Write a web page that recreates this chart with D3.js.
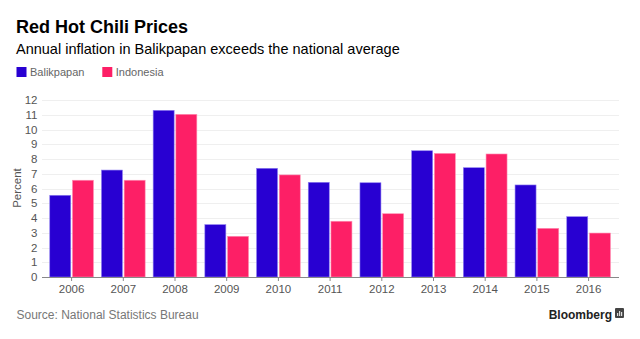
<!DOCTYPE html>
<html>
<head>
<meta charset="utf-8">
<script src="https://cdn.jsdelivr.net/npm/d3@7"></script>
<style>
  html, body { margin: 0; padding: 0; background: #fff; }
  svg { display: block; font-family: "Liberation Sans", Arial, Helvetica, sans-serif; }
</style>
</head>
<body>
<svg id="chart" width="640" height="339"></svg>
<script>
const years = ["2006","2007","2008","2009","2010","2011","2012","2013","2014","2015","2016"];
const seriesNames = ["Balikpapan", "Indonesia"];
const balikpapan = [5.54, 7.25, 11.3, 3.55, 7.37, 6.42, 6.39, 8.56, 7.41, 6.24, 4.09];
const indonesia  = [6.56, 6.56, 11.03, 2.76, 6.92, 3.78, 4.29, 8.38, 8.34, 3.30, 2.98];
const yTicks = [0,1,2,3,4,5,6,7,8,9,10,11,12];
const colors = ["#2800d2", "#fd1f66"];

const svg = d3.select("#chart");

const x = d3.scaleBand().domain(years).range([45.75, 614.45]).paddingInner(0.155).paddingOuter(0.0775);
const x1 = d3.scaleBand().domain(seriesNames).range([0, x.bandwidth()]).paddingInner(0.075);
const y = d3.scaleLinear().domain([0, 12]).range([277, 100]);

// Title
svg.append("text").attr("x", 16).attr("y", 33).attr("font-size", 18).attr("font-weight", "bold").attr("fill", "#000").text("Red Hot Chili Prices");
svg.append("text").attr("x", 16).attr("y", 53.5).attr("font-size", 14.5).attr("fill", "#000").text("Annual inflation in Balikpapan exceeds the national average");

// Legend
const legendX = [16.5, 102.3];
seriesNames.forEach((s, i) => {
  svg.append("rect").attr("x", legendX[i]).attr("y", 67).attr("width", 10).attr("height", 10).attr("fill", colors[i]);
  svg.append("text").attr("x", legendX[i] + 13.5).attr("y", 76.3).attr("font-size", 11).attr("fill", "#666").text(s);
});

// Gridlines
svg.append("g").selectAll("line").data(yTicks.filter(d => d > 0)).join("line")
  .attr("x1", 42).attr("x2", 619)
  .attr("y1", d => Math.round(y(d)) + 0.5).attr("y2", d => Math.round(y(d)) + 0.5)
  .attr("stroke", "#efefef").attr("stroke-width", 1);

// Y axis labels
const yAxis = d3.axisLeft(y).tickValues(yTicks).tickSize(0).tickPadding(0);
const gy = svg.append("g").attr("transform", "translate(37.5,0)").call(yAxis);
gy.select(".domain").remove();
gy.selectAll("text").attr("font-size", 11.5).attr("fill", "#555").attr("font-family", "Liberation Sans, Arial, sans-serif");

svg.append("text").attr("transform", "translate(20.5,188) rotate(-90)").attr("text-anchor", "middle")
  .attr("font-size", 11.5).attr("fill", "#555").text("Percent");

// Bars
const data = years.map((yr, i) => ({ year: yr, values: [balikpapan[i], indonesia[i]] }));
const groups = svg.append("g").selectAll("g").data(data).join("g")
  .attr("transform", d => `translate(${x(d.year)},0)`);
groups.selectAll("rect").data(d => d.values.map((v, i) => ({ name: seriesNames[i], v, i }))).join("rect")
  .attr("x", d => x1(d.name)).attr("width", x1.bandwidth())
  .attr("y", d => y(d.v)).attr("height", d => y(0) - y(d.v))
  .attr("fill", d => colors[d.i])
  .attr("stroke", d => d.i === 0 ? "#8f7ff0" : "#ff8fb3").attr("stroke-width", 0.6);

// X axis
const xAxis = d3.axisBottom(x).tickSize(3.5).tickPadding(4);
const gx = svg.append("g").attr("transform", `translate(0,${y(0) + 0.5})`).call(xAxis);
gx.select(".domain").remove();
gx.selectAll(".tick line").attr("stroke", "#888");
gx.selectAll("text").attr("font-size", 11.5).attr("fill", "#555").attr("font-family", "Liberation Sans, Arial, sans-serif");
svg.append("line").attr("x1", 42).attr("x2", 619).attr("y1", y(0) + 0.5).attr("y2", y(0) + 0.5).attr("stroke", "#888").attr("stroke-width", 1.2);

// Footer
svg.append("text").attr("x", 16.5).attr("y", 319).attr("font-size", 12).attr("fill", "#777").text("Source: National Statistics Bureau");
svg.append("text").attr("x", 612).attr("y", 318.5).attr("text-anchor", "end").attr("font-size", 12).attr("font-weight", "bold").attr("fill", "#222").text("Bloomberg");
const icon = svg.append("g").attr("transform", "translate(615,308)");
icon.append("rect").attr("width", 9).attr("height", 10).attr("rx", 1).attr("fill", "#444");
icon.append("rect").attr("x", 2).attr("y", 5).attr("width", 1.2).attr("height", 3).attr("fill", "#ddd");
icon.append("rect").attr("x", 4).attr("y", 3).attr("width", 1.2).attr("height", 5).attr("fill", "#ddd");
icon.append("rect").attr("x", 6).attr("y", 4).attr("width", 1.2).attr("height", 4).attr("fill", "#ddd");
</script>
</body>
</html>
